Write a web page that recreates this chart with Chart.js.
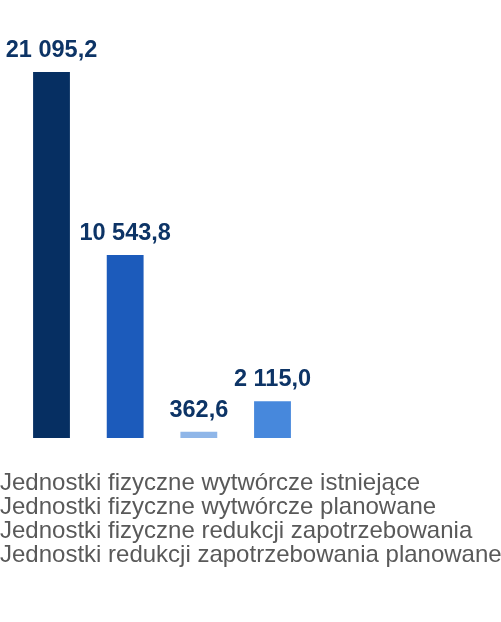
<!DOCTYPE html>
<html lang="pl">
<head>
    <meta charset="UTF-8">
    <title>Jednostki</title>
    <style>
        html, body { margin: 0; padding: 0; background: #fff; overflow: hidden; }
        #wrap { position: relative; width: 513px; height: 622px; margin-left: -12px; }
    </style>
    <script src="https://cdn.jsdelivr.net/npm/chart.js"></script>
</head>
<body>
    <div id="wrap">
        <canvas id="myChart" width="513" height="622"></canvas>
    </div>

    <script>
        var categories = [
            'Jednostki fizyczne wytwórcze istniejące',
            'Jednostki fizyczne wytwórcze planowane',
            'Jednostki fizyczne redukcji zapotrzebowania',
            'Jednostki redukcji zapotrzebowania planowane'
        ];
        var values = [21095.2, 10543.8, 362.6, 2115.0];
        var valueLabels = ['21 095,2', '10 543,8', '362,6', '2 115,0'];
        var barColors = ['#062f62', '#1c5bbb', '#8fb6e8', '#4788dc'];

        // value labels above each bar
        var valueLabelPlugin = {
            id: 'valueLabels',
            afterDatasetsDraw: function(chart) {
                var ctx = chart.ctx;
                var meta = chart.getDatasetMeta(0);
                ctx.save();
                ctx.font = 'bold 23.5px "Liberation Sans", Arial, sans-serif';
                ctx.fillStyle = '#0d3466';
                ctx.textAlign = 'center';
                ctx.textBaseline = 'alphabetic';
                meta.data.forEach(function(bar, i) {
                    ctx.fillText(valueLabels[i], bar.x, bar.y - 15);
                });
                ctx.restore();
            }
        };

        var ctx = document.getElementById('myChart').getContext('2d');
        var myChart = new Chart(ctx, {
            type: 'bar',
            data: {
                labels: categories,
                datasets: [{
                    data: values,
                    backgroundColor: barColors,
                    categoryPercentage: 1,
                    barPercentage: 0.5
                }]
            },
            options: {
                responsive: false,
                animation: false,
                layout: { padding: { top: 72, bottom: 45, left: 0, right: 0 } },
                scales: {
                    x: {
                        display: true,
                        ticks: { display: false },
                        grid: { display: false },
                        border: { display: false },
                        afterFit: function(scale) { scale.height = 33; }
                    },
                    y: {
                        min: 0,
                        max: 21095.2,
                        ticks: { display: false },
                        grid: { display: false },
                        border: { display: false },
                        afterFit: function(scale) { scale.width = 26.67; }
                    },
                    yRight: {
                        type: 'linear',
                        position: 'right',
                        ticks: { display: false },
                        grid: { display: false },
                        border: { display: false },
                        afterFit: function(scale) { scale.width = 191.67; }
                    }
                },
                plugins: {
                    tooltip: { enabled: false },
                    legend: {
                        position: 'bottom',
                        align: 'start',
                        labels: {
                            boxWidth: 0,
                            padding: 0,
                            color: '#595959',
                            font: { family: '"Liberation Sans", Arial, sans-serif', size: 24 },
                            generateLabels: function(chart) {
                                return chart.data.labels.map(function(label, i) {
                                    return {
                                        text: label,
                                        fontColor: '#595959',
                                        fillStyle: 'rgba(0,0,0,0)',
                                        strokeStyle: 'rgba(0,0,0,0)',
                                        lineWidth: 0,
                                        hidden: false,
                                        index: i
                                    };
                                });
                            }
                        }
                    }
                }
            },
            plugins: [valueLabelPlugin]
        });
    </script>
</body>
</html>
